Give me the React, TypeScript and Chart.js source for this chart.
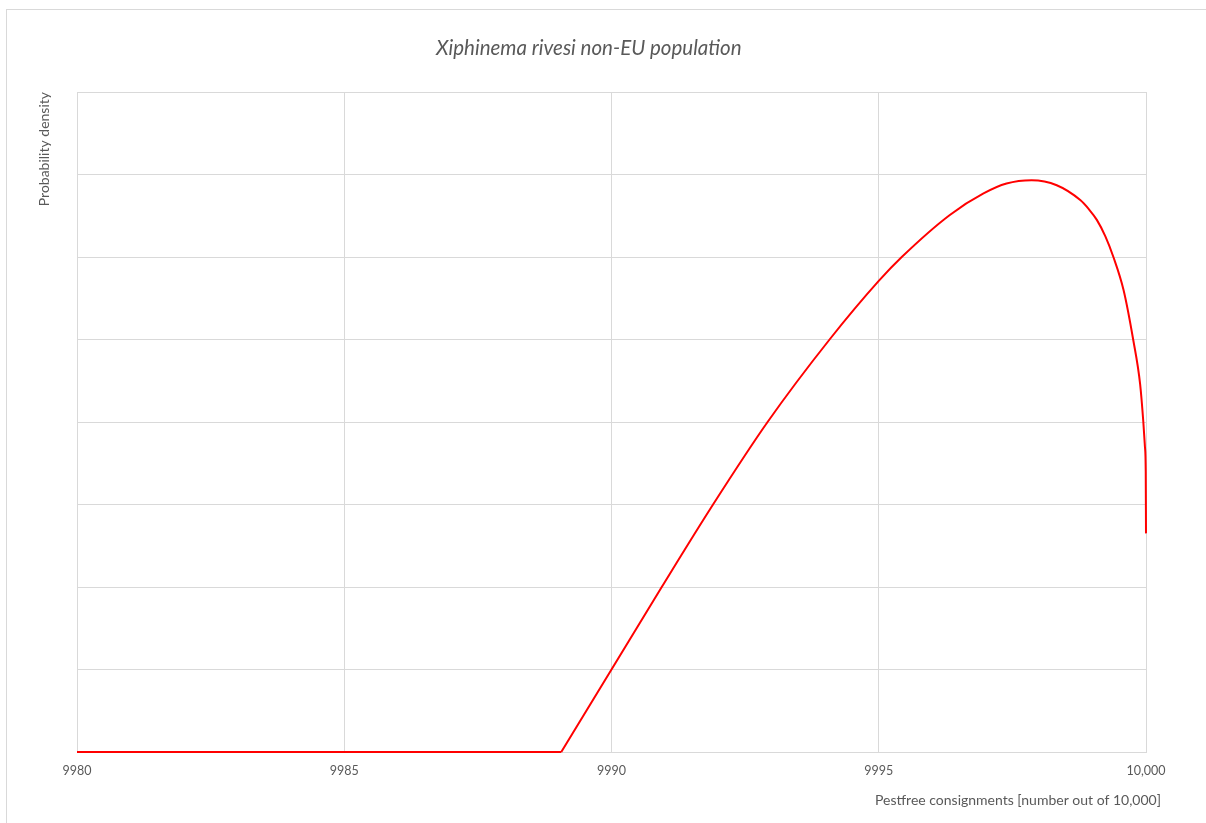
import React, { useEffect, useRef } from "react";
import { Chart, registerables } from "chart.js";

Chart.register(...registerables);

const chartTitle = "Xiphinema rivesi non-EU population";
const xAxisTitle = "Pestfree consignments [number out of 10,000]";
const yAxisTitle = "Probability density";

const xMin = 9980;
const xMax = 10000;
const xStep = 5;
const yMax = 8;

// flat (zero density) part
const flatX = [9980, 9989.06];
const flatY = [0, 0];

// rising / falling part of the density curve
const curveX = [
  9989.06, 9990, 9990.94, 9991.9, 9992.92, 9994.08, 9995.0, 9995.43, 9996.33,
  9996.96, 9997.39, 9997.86, 9998.33, 9998.77, 9998.93, 9999.08, 9999.24,
  9999.39, 9999.58, 9999.76, 9999.89, 9999.95, 9999.98, 9999.995, 10000,
];
const curveY = [
  0, 1.0, 2.0, 3.0, 4.0, 5.0, 5.71, 6.0, 6.51, 6.77, 6.89, 6.93, 6.87, 6.69,
  6.58, 6.45, 6.25, 6.0, 5.6, 5.0, 4.46, 4.0, 3.7, 3.4, 2.65,
];

const FONT = "Lato, 'Open Sans', sans-serif";
const GREY = "#595959";
const GRID = "#d9d9d9";

const xTitlePlugin = {
  id: "xTitlePlugin",
  afterDraw(chart: any) {
    const { ctx, chartArea } = chart;
    ctx.save();
    ctx.font = `14px ${FONT}`;
    ctx.fillStyle = GREY;
    ctx.textAlign = "right";
    ctx.textBaseline = "middle";
    ctx.fillText(xAxisTitle, chartArea.right + 15, chartArea.bottom + 48);
    ctx.restore();
  },
};

export default function App() {
  const ref = useRef<HTMLCanvasElement>(null);

  useEffect(() => {
    if (!ref.current) return;
    const chart = new Chart(ref.current, {
      type: "line",
      data: {
        datasets: [
          {
            label: "flat",
            data: flatX.map((x, i) => ({ x, y: flatY[i] })),
            borderColor: "#ff0000",
            borderWidth: 2,
            pointRadius: 0,
            tension: 0,
            clip: 4,
          },
          {
            label: "density",
            data: curveX.map((x, i) => ({ x, y: curveY[i] })),
            borderColor: "#ff0000",
            borderWidth: 2,
            pointRadius: 0,
            cubicInterpolationMode: "monotone",
            clip: 4,
          },
        ],
      },
      options: {
        animation: false,
        responsive: false,
        maintainAspectRatio: false,
        layout: { padding: { left: 31.6, right: 60, top: 0, bottom: 34 } },
        plugins: {
          legend: { display: false },
          tooltip: { enabled: false },
          title: {
            display: true,
            text: chartTitle,
            color: GREY,
            font: { family: FONT, size: 20.5, style: "italic", weight: "normal" },
            padding: { top: 35.7, bottom: 31.7 },
          },
        },
        scales: {
          x: {
            type: "linear",
            min: xMin,
            max: xMax,
            ticks: {
              stepSize: xStep,
              color: GREY,
              padding: 11,
              font: { family: FONT, size: 12.5 },
              callback: (v: any) =>
                Number(v) >= 10000 ? Number(v).toLocaleString("en-US") : String(v),
            },
            grid: { color: GRID, drawTicks: false },
            border: { color: GRID },
          },
          y: {
            min: 0,
            max: yMax,
            ticks: { display: false, stepSize: 1 },
            grid: { color: GRID, drawTicks: false },
            border: { color: GRID },
            title: {
              display: true,
              text: yAxisTitle,
              align: "end",
              color: GREY,
              font: { family: FONT, size: 14 },
              padding: { top: 4, bottom: 24.6 },
            },
          },
        },
      },
      plugins: [xTitlePlugin],
    });
    return () => chart.destroy();
  }, []);

  return (
    <div>
      <div
        style={{
          position: "fixed",
          left: 6,
          top: 9,
          width: 1220,
          height: 830,
          border: `1px solid ${GRID}`,
          boxSizing: "border-box",
          background: "#fff",
        }}
      />
      <canvas
        ref={ref}
        width={1206}
        height={823}
        style={{ position: "fixed", left: 0, top: 0, width: 1206, height: 823 }}
      />
    </div>
  );
}
